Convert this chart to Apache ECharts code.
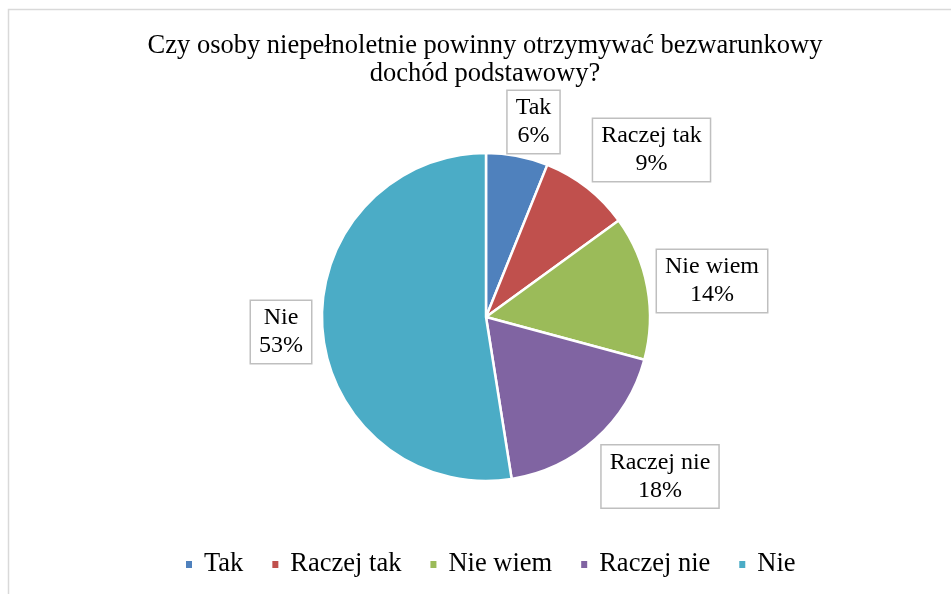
<!DOCTYPE html>
<html>
<head>
<meta charset="utf-8">
<script src="https://cdn.jsdelivr.net/npm/echarts@6/dist/echarts.min.js"></script>
<style>
html,body{margin:0;padding:0;background:#fff;}
#chart{width:951px;height:594px;}
</style>
</head>
<body>
<div id="chart"></div>
<script>
// Data
var categories = ['Tak', 'Raczej tak', 'Nie wiem', 'Raczej nie', 'Nie'];
var values = [6.1, 8.9, 14.2, 18.3, 52.5];
var colors = ['#4F81BD', '#C0504D', '#9BBB59', '#8064A2', '#4BACC6'];
var titleText = 'Czy osoby niepełnoletnie powinny otrzymywać bezwarunkowy\ndochód podstawowy?';

// Layout (label box centers relative to pie center)
var CX = 486, CY = 317, R = 164;
var labelOffsets = [[47.5, -195], [165.5, -167], [226, -36], [174, 159.5], [-205, 15]];

var chart = echarts.init(document.getElementById('chart'), null, {renderer: 'canvas'});
var FONT = '"Liberation Serif", "Times New Roman", serif';

var option = {
  backgroundColor: '#fff',
  animation: false,
  title: {
    text: titleText,
    left: 480,
    textAlign: 'center',
    top: 27,
    textStyle: {fontFamily: FONT, fontSize: 26.5, fontWeight: 'normal', color: '#000', lineHeight: 28}
  },
  legend: {
    data: categories,
    bottom: 11,
    left: 179,
    icon: 'rect',
    itemWidth: 8,
    itemHeight: 9,
    itemGap: 27,
    textStyle: {fontFamily: FONT, fontSize: 26.5, color: '#000', padding: [0, 0, 0, 6]}
  },
  graphic: [{
    type: 'rect',
    shape: {x: 8.5, y: 9.5, width: 1000, height: 700},
    style: {fill: 'none', stroke: '#d9d9d9', lineWidth: 1.5},
    silent: true, z: -1
  }],
  series: [{
    type: 'pie',
    center: [CX, CY],
    radius: R,
    startAngle: 90,
    clockwise: true,
    percentPrecision: 0,
    itemStyle: {borderColor: '#fff', borderWidth: 2.5},
    label: {
      show: true,
      position: 'outside',
      formatter: '{b}\n{d}%',
      fontFamily: FONT,
      fontSize: 24,
      lineHeight: 28,
      color: '#000',
      backgroundColor: '#fff',
      borderColor: '#bfbfbf',
      borderWidth: 1.5,
      padding: [3, 8, 3, 8],
      align: 'center'
    },
    labelLine: {show: false},
    labelLayout: function (p) {
      var o = labelOffsets[p.dataIndex];
      return {x: CX + o[0], y: CY + o[1], align: 'center', verticalAlign: 'middle', moveOverlap: null, hideOverlap: false};
    },
    emphasis: {disabled: true},
    data: categories.map(function (c, i) {
      return {name: c, value: values[i], itemStyle: {color: colors[i]}};
    })
  }]
};
chart.setOption(option);
</script>
</body>
</html>
